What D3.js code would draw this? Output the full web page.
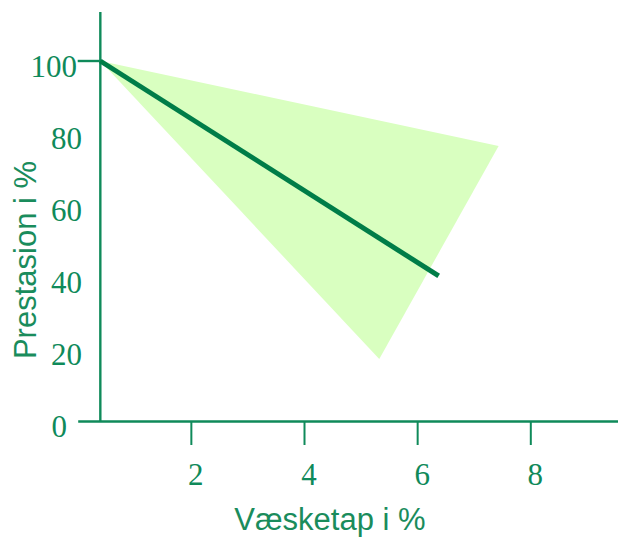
<!DOCTYPE html>
<html>
<head>
<meta charset="utf-8">
<script src="https://cdn.jsdelivr.net/npm/d3@7"></script>
<style>
  body { margin: 0; background: #fff; }
</style>
</head>
<body>
<div class="content"></div>
<script>
const [svgWidth, svgHeight] = [618, 537];

// data
const lineX = [0.4, 6.38];
const lineY = [100, 40.3];
const bandX = [0.4, 7.44, 5.33];
const bandY = [100, 76.4, 17.2];
const xTicks = [2, 4, 6, 8];
const yTicks = [0, 20, 40, 60, 80, 100];
const xTitle = 'Væsketap i %';
const yTitle = 'Prestasion i %';

const axisColor = '#0f8a5a';
const lineColor = '#007d48';
const bandColor = '#d9ffc0';

const svg = d3.select('.content')
  .append('svg')
  .attr('width', svgWidth)
  .attr('height', svgHeight);

const x = d3.scaleLinear()
  .domain([0, 9.55])
  .range([77.7, 618]);
const y = d3.scaleLinear()
  .domain([0, 100])
  .range([421, 61]);
const yAxisAt = 0.4;

// shaded band
svg.append('path')
  .datum(d3.zip(bandX, bandY))
  .attr('fill', bandColor)
  .attr('d', d => 'M' + d.map(p => `${x(p[0])},${y(p[1])}`).join('L') + 'Z');

// x axis
const xAxis = d3.axisBottom(x)
  .tickValues(xTicks)
  .tickSize(24)
  .tickSizeOuter(0)
  .tickPadding(18)
  .tickFormat(d3.format('d'));
const gx = svg.append('g')
  .attr('transform', `translate(0,${y(0)})`)
  .call(xAxis);
gx.select('.domain').attr('stroke', axisColor).attr('stroke-width', 2.4);
gx.selectAll('.tick line').attr('stroke', axisColor).attr('stroke-width', 2);
gx.selectAll('.tick text')
  .attr('fill', axisColor)
  .attr('dx', 4.5)
  .style('font-family', '"Liberation Serif", "Times New Roman", serif')
  .style('font-size', '31px');

// y axis
svg.append('line')
  .attr('x1', x(yAxisAt)).attr('x2', x(yAxisAt))
  .attr('y1', y(113.6)).attr('y2', y(0))
  .attr('stroke', axisColor)
  .attr('stroke-width', 2.4);
svg.append('line')
  .attr('x1', x(0)).attr('x2', x(yAxisAt))
  .attr('y1', y(100)).attr('y2', y(100))
  .attr('stroke', axisColor)
  .attr('stroke-width', 2.4);
svg.selectAll('text.ylab')
  .data(yTicks)
  .enter()
  .append('text')
  .classed('ylab', true)
  .attr('x', d => d === 0 ? 67 : d === 100 ? 77 : 82)
  .attr('y', d => y(d) + 16)
  .attr('text-anchor', 'end')
  .attr('fill', axisColor)
  .style('font-family', '"Liberation Serif", "Times New Roman", serif')
  .style('font-size', '31px')
  .text(d => d);

// main line
svg.append('path')
  .datum(d3.zip(lineX, lineY))
  .attr('fill', 'none')
  .attr('stroke', lineColor)
  .attr('stroke-width', 5)
  .attr('d', d3.line().x(d => x(d[0])).y(d => y(d[1])));

// titles
svg.append('text')
  .attr('x', 330)
  .attr('y', 530)
  .attr('text-anchor', 'middle')
  .attr('fill', '#1a8c5c')
  .style('font-family', '"Liberation Sans", Arial, sans-serif')
  .style('font-size', '31px')
  .text(xTitle);
svg.append('text')
  .attr('transform', 'translate(36,260) rotate(-90)')
  .attr('text-anchor', 'middle')
  .attr('fill', '#1a8c5c')
  .style('font-family', '"Liberation Sans", Arial, sans-serif')
  .style('font-size', '31px')
  .text(yTitle);
</script>
</body>
</html>
